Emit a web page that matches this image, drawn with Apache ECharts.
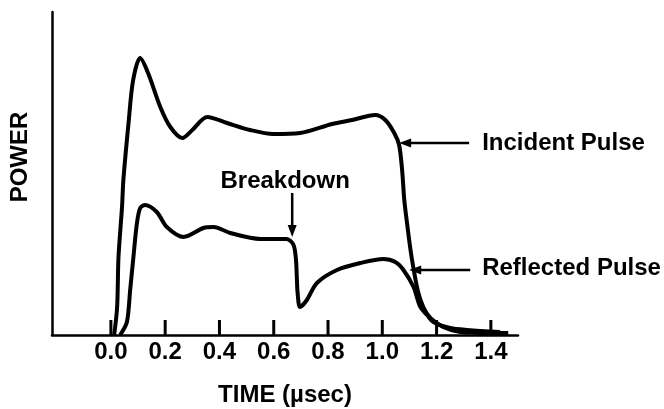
<!DOCTYPE html>
<html>
<head>
<meta charset="utf-8">
<script src="https://cdn.jsdelivr.net/npm/echarts@6/dist/echarts.min.js"></script>
<style>
  html, body { margin: 0; padding: 0; background: #fff; }
  #main { width: 664px; height: 409px; }
</style>
</head>
<body>
<div id="main"></div>
<script>
// time in µsec, power in arbitrary units
var incidentTime = [0.012, 0.023, 0.028, 0.041, 0.046, 0.065, 0.082, 0.108, 0.137, 0.182,
    0.219, 0.263, 0.300, 0.355, 0.428, 0.513, 0.598, 0.697, 0.815, 0.889,
    0.974, 1.011, 1.044, 1.062, 1.073, 1.081, 1.092, 1.104, 1.114, 1.132,
    1.151, 1.177, 1.224, 1.287, 1.409, 1.464];
var incidentPower = [0, 28, 78, 128, 155, 212, 255, 277, 262, 228,
    208, 197, 205, 218, 212, 205, 201, 202, 211, 215,
    220, 215, 202, 190, 165, 135, 110, 85, 68, 43,
    28, 17, 8, 3, 2, 2];

var reflectedTime = [0.034, 0.059, 0.071, 0.083, 0.096, 0.108, 0.126, 0.169, 0.206, 0.268,
    0.341, 0.378, 0.440, 0.550, 0.648, 0.673, 0.682, 0.685, 0.688, 0.697,
    0.722, 0.759, 0.833, 0.919, 1.004, 1.048, 1.078, 1.115, 1.140, 1.165,
    1.188, 1.250, 1.313, 1.434];
var reflectedPower = [0, 13, 45, 78, 112, 127, 130, 123, 108, 98,
    107, 108, 102, 96, 96, 90, 75, 58, 42, 28,
    35, 52, 65, 72, 76, 73, 65, 48, 28, 20,
    13, 7, 5, 3];

var tickValues = [0, 0.2, 0.4, 0.6, 0.8, 1.0, 1.2, 1.4];
var tickLabels = ['0.0', '0.2', '0.4', '0.6', '0.8', '1.0', '1.2', '1.4'];

function pairs(xs, ys) {
    var out = [];
    for (var i = 0; i < xs.length; i++) out.push([xs[i], ys[i]]);
    return out;
}

var fontFamily = '"Liberation Sans", Arial, Helvetica, sans-serif';
var ink = '#000';

var myChart = echarts.init(document.getElementById('main'));
var option = {
    animation: false,
    backgroundColor: '#fff',
    grid: { left: 52, top: 12, width: 466, height: 323, containLabel: false, outerBoundsMode: 'none' },
    xAxis: {
        type: 'value',
        min: -0.217,
        max: 1.5,
        name: 'TIME (µsec)',
        nameLocation: 'middle',
        nameGap: 48,
        nameTextStyle: { color: ink, fontSize: 24, fontWeight: 'bold', fontFamily: fontFamily },
        splitLine: { show: false },
        axisLine: { onZero: false, lineStyle: { color: ink, width: 2.5 } },
        axisTick: { show: false },
        axisLabel: {
            customValues: tickValues,
            margin: 5,
            color: ink, fontSize: 24, fontWeight: 'bold', fontFamily: fontFamily,
            formatter: function (v) {
                var best = 0;
                for (var i = 0; i < tickValues.length; i++) {
                    if (Math.abs(tickValues[i] - v) < Math.abs(tickValues[best] - v)) best = i;
                }
                return tickLabels[best];
            }
        }
    },
    yAxis: {
        type: 'value',
        min: 0,
        max: 323,
        splitLine: { show: false },
        axisLine: { show: true, onZero: false, lineStyle: { color: ink, width: 2.5 } },
        axisTick: { show: false },
        axisLabel: { show: false }
    },
    series: [
        {
            name: 'Incident Pulse',
            type: 'line',
            data: pairs(incidentTime, incidentPower),
            showSymbol: false,
            smooth: 0.3,
            lineStyle: { color: ink, width: 4 }
        },
        {
            name: 'Reflected Pulse',
            type: 'line',
            data: pairs(reflectedTime, reflectedPower),
            showSymbol: false,
            smooth: 0.3,
            lineStyle: { color: ink, width: 4 }
        }
    ]
};
myChart.setOption(option);

// annotations and inward ticks, placed through the axes' own scales
function px(t, p) {
    return myChart.convertToPixel({ gridIndex: 0 }, [t, p]);
}

function arrowLeft(from, to) {
    var a = px(from[0], from[1]), b = px(to[0], to[1]);
    return [
        { type: 'line', shape: { x1: a[0], y1: a[1], x2: b[0] + 8, y2: b[1] }, style: { stroke: ink, lineWidth: 2.5 } },
        { type: 'polygon', shape: { points: [[b[0], b[1]], [b[0] + 12, b[1] - 4.5], [b[0] + 12, b[1] + 4.5]] }, style: { fill: ink } }
    ];
}

function arrowDown(from, to) {
    var a = px(from[0], from[1]), b = px(to[0], to[1]);
    return [
        { type: 'line', shape: { x1: a[0], y1: a[1], x2: b[0], y2: b[1] - 8 }, style: { stroke: ink, lineWidth: 2.5 } },
        { type: 'polygon', shape: { points: [[b[0], b[1]], [b[0] - 4.5, b[1] - 12], [b[0] + 4.5, b[1] - 12]] }, style: { fill: ink } }
    ];
}

function label(text, at, align) {
    var p = px(at[0], at[1]);
    return {
        type: 'text',
        style: {
            text: text, x: p[0], y: p[1], fill: ink,
            font: 'bold 24px ' + fontFamily,
            align: align, textAlign: align,
            verticalAlign: 'middle', textVerticalAlign: 'middle'
        }
    };
}

var graphics = [];
for (var k = 0; k < tickValues.length; k++) {
    var tickBase = px(tickValues[k], 0);
    graphics.push({
        type: 'line',
        z: 100,
        shape: { x1: tickBase[0], y1: tickBase[1], x2: tickBase[0], y2: tickBase[1] - 15 },
        style: { stroke: ink, lineWidth: 3 }
    });
}
graphics = graphics.concat(arrowDown([0.668, 142], [0.668, 98]));
graphics = graphics.concat(arrowLeft([1.320, 192], [1.062, 192]));
graphics = graphics.concat(arrowLeft([1.324, 65], [1.099, 65]));
graphics.push(label('Breakdown', [0.642, 154], 'center'));
graphics.push(label('Incident Pulse', [1.368, 192], 'left'));
graphics.push(label('Reflected Pulse', [1.368, 67], 'left'));
graphics.push({
    type: 'text',
    x: 20, y: 157, rotation: Math.PI / 2,
    style: {
        text: 'POWER', fill: ink, font: 'bold 24px ' + fontFamily,
        align: 'center', textAlign: 'center',
        verticalAlign: 'middle', textVerticalAlign: 'middle'
    }
});

myChart.setOption({ graphic: { elements: graphics } });
</script>
</body>
</html>
